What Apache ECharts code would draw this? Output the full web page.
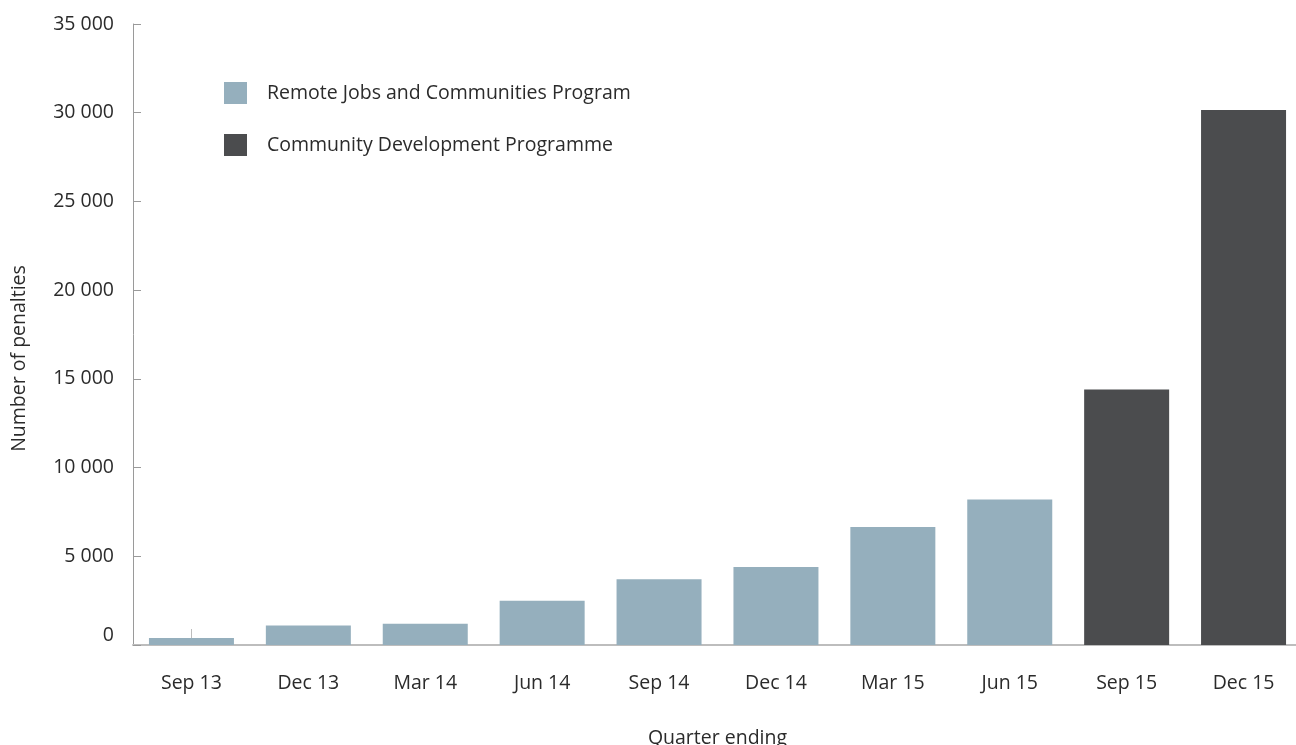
<!DOCTYPE html>
<html>
<head>
<meta charset="utf-8">
<title>Penalties by quarter</title>
<script src="https://cdn.jsdelivr.net/npm/echarts@6/dist/echarts.min.js"></script>
<style>
  html, body { margin: 0; padding: 0; background: #fff; }
  #chart { width: 1296px; height: 745px; }
</style>
</head>
<body>
<div id="chart"></div>
<script>
// Quarters shown along the horizontal axis
const quarters = ['Sep 13', 'Dec 13', 'Mar 14', 'Jun 14', 'Sep 14', 'Dec 14', 'Mar 15', 'Jun 15', 'Sep 15', 'Dec 15'];

// Penalties applied under each programme ('-' = programme not running)
const rjcpPenalties = [400, 1100, 1200, 2500, 3700, 4400, 6650, 8200, '-', '-'];
const cdpPenalties  = ['-', '-', '-', '-', '-', '-', '-', '-', 14400, 30150];

const seriesNames = ['Remote Jobs and Communities Program', 'Community Development Programme'];
const seriesColors = ['#95afbd', '#4b4c4e'];

const FONT = '"Open Sans", "Noto Sans", sans-serif';
const FS = 19.5;
const TEXT = '#2b2b2b';

const chart = echarts.init(document.getElementById('chart'), null, { renderer: 'canvas' });

chart.setOption({
  animation: false,
  textStyle: { fontFamily: FONT },
  legend: {
    orient: 'vertical',
    left: 224,
    top: 82,
    padding: 0,
    itemWidth: 23,
    itemHeight: 22,
    itemGap: 30,
    icon: 'rect',
    textStyle: { fontFamily: FONT, fontSize: FS, color: TEXT, padding: [0, 0, 0, 15] },
    data: seriesNames
  },
  grid: { left: 133, right: -6, top: 24, bottom: 100, containLabel: false, outerBoundsMode: 'none' },
  xAxis: {
    type: 'category',
    data: quarters,
    name: 'Quarter ending',
    nameLocation: 'middle',
    nameGap: 83,
    nameTextStyle: { fontFamily: FONT, fontSize: FS, color: TEXT },
    axisLine: { lineStyle: { color: '#bdbdbd', width: 2 } },
    axisTick: { show: true, alignWithLabel: true, inside: true, length: 16, lineStyle: { color: '#bdbdbd' } },
    axisLabel: { fontFamily: FONT, fontSize: FS, color: TEXT, margin: 28 },
    splitLine: { show: false }
  },
  yAxis: {
    type: 'value',
    min: 0,
    max: 35000,
    interval: 5000,
    name: 'Number of penalties',
    nameLocation: 'middle',
    nameGap: 104,
    nameTextStyle: { fontFamily: FONT, fontSize: FS, color: TEXT, padding: [0, 48, 0, 0] },
    axisLine: { show: true, lineStyle: { color: '#9a9a9a', width: 1 } },
    axisTick: { show: true, inside: true, length: 8, lineStyle: { color: '#9a9a9a' } },
    axisLabel: {
      fontFamily: FONT,
      fontSize: FS,
      color: TEXT,
      margin: 19,
      formatter: function (v) {
        if (v === 0) return '{z|0}';
        return String(v).replace(/\B(?=(\d{3})+(?!\d))/g, ' ');
      },
      rich: { z: { fontFamily: FONT, fontSize: FS, color: TEXT, padding: [0, 0, 20, 0] } }
    },
    splitLine: { show: false }
  },
  series: [
    {
      name: seriesNames[0],
      type: 'bar',
      data: rjcpPenalties,
      barWidth: 85,
      barGap: '-100%',
      itemStyle: { color: seriesColors[0] }
    },
    {
      name: seriesNames[1],
      type: 'bar',
      data: cdpPenalties,
      barWidth: 85,
      barGap: '-100%',
      itemStyle: { color: seriesColors[1] }
    }
  ]
});
</script>
</body>
</html>
